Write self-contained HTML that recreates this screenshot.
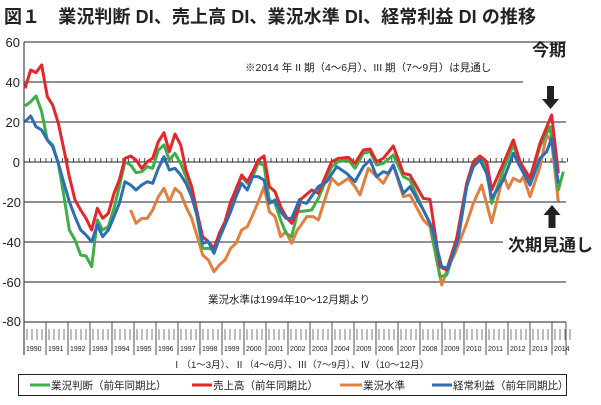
<!DOCTYPE html><html><head><meta charset="utf-8"><style>
body{margin:0;background:#fff;width:601px;height:400px;overflow:hidden;font-family:"Liberation Sans","Noto Sans CJK JP",sans-serif}
</style></head><body>
<svg width="601" height="400" xmlns="http://www.w3.org/2000/svg" font-family="Liberation Sans, Noto Sans CJK JP, sans-serif">
<text x="4" y="23" font-size="18" font-weight="bold" fill="#222" textLength="532">図１　業況判断 DI、売上高 DI、業況水準 DI、経常利益 DI の推移</text>
<g stroke="#222" stroke-width="1">
<line x1="24" y1="42" x2="566" y2="42"/><line x1="24" y1="82" x2="523" y2="82"/>
<line x1="24" y1="122" x2="566" y2="122"/><line x1="24" y1="162" x2="566" y2="162"/>
<line x1="24" y1="202" x2="566" y2="202"/><line x1="24" y1="242" x2="503" y2="242"/>
<line x1="24" y1="282" x2="566" y2="282"/><line x1="24" y1="322" x2="566" y2="322"/>
<line x1="24" y1="42" x2="24" y2="355"/>
</g>
<g id="zt" stroke="#222" stroke-width="0.8"></g>
<g font-size="13" fill="#222" text-anchor="end">
<text x="20" y="47">60</text><text x="20" y="87">40</text><text x="20" y="127">20</text><text x="20" y="167">0</text>
<text x="21" y="207">-20</text><text x="21" y="247">-40</text><text x="21" y="287">-60</text><text x="21" y="326">-80</text></g>
<text x="245" y="71" font-size="10.5" fill="#222">※2014 年 II 期（4〜6月）、III 期（7〜9月）は見通し</text>
<text x="208" y="303" font-size="10.5" fill="#222">業況水準は1994年10〜12月期より</text>
<g fill="none" stroke-width="9" stroke-linejoin="round" transform="translate(0,30) scale(0.33333)">
<polyline stroke="#e0803f" points="392,540 408,580 425,565 442,565 458,540 475,500 492,475 508,515 525,475 542,490 558,530 575,565 592,620 608,675 625,690 642,725 658,705 675,690 692,655 708,640 725,600 742,590 758,555 775,515 792,470 808,545 825,560 842,620 858,605 875,640 892,600 900,590"/>
<polyline stroke="#3fae49" points="75,228 92,215 108,198 125,245 142,330 158,345 175,400 192,500 208,600 225,630 242,675 258,678 275,710 292,570 308,600 325,590 342,535 358,470 375,395 392,405 408,428 425,425 442,410 458,415 475,360 492,345 508,390 525,370 542,400 558,440 575,480 592,565 608,655 625,655 642,660 658,615 675,575 692,520 708,475 725,440 742,460 758,440 775,400 792,405 808,510 825,520 842,570 858,610 875,620 892,550 900,540"/>
<polyline stroke="#e5262a" points="75,175 92,120 108,128 125,105 142,200 158,225 175,280 192,360 208,440 225,510 242,540 258,565 275,600 292,535 308,565 325,550 342,490 358,450 375,385 392,378 408,390 425,415 442,395 458,385 475,335 492,308 508,365 525,312 542,345 558,420 575,470 592,550 608,620 625,635 642,655 658,610 675,575 692,515 708,480 725,435 742,455 758,425 775,390 792,378 808,470 825,485 842,530 858,560 875,580 892,545 900,520"/>
<polyline stroke="#2f6db5" points="75,275 92,258 108,290 125,300 142,330 158,350 175,400 192,460 208,515 225,560 242,600 258,615 275,635 292,585 308,620 325,600 342,560 358,520 375,455 392,465 408,480 425,465 442,455 458,460 475,415 492,380 508,420 525,415 542,435 558,460 575,500 592,560 608,640 625,635 642,670 658,625 675,585 692,545 708,500 725,460 742,480 758,440 775,440 792,450 808,520 825,510 842,545 858,565 875,565 892,525 900,505"/>
</g>
<g fill="none" stroke-width="9" stroke-linejoin="round" transform="translate(300,30) scale(0.33333)">
<polyline stroke="#e0803f" points="0,590 20,560 40,560 55,570 95,445 115,465 145,445 165,470 180,495 205,415 230,440 250,460 280,405 310,500 330,495 370,570 390,590 425,765 445,710 465,670 500,580 520,520 545,465 575,578 610,435 625,475 640,445 660,455 670,440 690,500 720,410 740,315 755,335 775,515"/>
<polyline stroke="#3fae49" points="0,545 35,540 55,505 95,410 115,395 145,390 165,415 190,370 210,365 230,405 250,400 280,375 310,440 330,450 370,540 390,580 420,740 440,735 470,640 500,470 520,400 540,385 560,410 575,520 610,420 640,345 660,400 690,450 720,350 750,290 775,480 790,425"/>
<polyline stroke="#e5262a" points="0,510 35,480 55,490 95,395 115,385 145,382 165,400 190,360 210,357 230,395 250,385 280,348 310,430 330,435 370,505 390,508 420,710 440,720 470,625 500,460 520,395 540,378 560,395 575,480 610,400 640,330 660,395 690,445 720,340 755,255 775,430"/>
<polyline stroke="#2f6db5" points="0,515 20,520 55,470 80,455 110,410 140,430 165,455 190,410 210,390 230,440 250,425 265,430 280,405 310,490 330,470 370,540 395,590 425,710 445,715 465,655 475,625 500,470 520,410 540,390 560,430 575,505 610,450 640,370 660,410 690,465 720,385 740,365 755,325 775,460"/>
</g>
<text x="532" y="56" font-size="17" font-weight="bold" fill="#222">今期</text>
<path d="M547 86h7v13h5l-8.5 10-8.5-10h5z" fill="#222"/>
<path d="M552 205l8.5 10h-5v13h-7v-13h-5z" fill="#222"/>
<text x="508" y="251" font-size="17" font-weight="bold" fill="#222">次期見通し</text>
<g id="ax"></g>
<text x="172" y="368" font-size="9.5" fill="#222">Ⅰ（1〜3月）、Ⅱ（4〜6月）、Ⅲ（7〜9月）、Ⅳ（10〜12月）</text>
<rect x="18.5" y="374.5" width="548" height="21" fill="none" stroke="#222"/>
<g font-size="10.5" fill="#222">
<line x1="30" y1="385" x2="50" y2="385" stroke="#3fae49" stroke-width="3"/><text x="51" y="389">業況判断（前年同期比）</text>
<line x1="192" y1="385" x2="212" y2="385" stroke="#e5262a" stroke-width="3"/><text x="213" y="389">売上高（前年同期比）</text>
<line x1="340" y1="385" x2="362" y2="385" stroke="#e0803f" stroke-width="3"/><text x="363" y="389">業況水準</text>
<line x1="432" y1="385" x2="452" y2="385" stroke="#2f6db5" stroke-width="3"/><text x="453" y="389">経常利益（前年同期比）</text>
</g>
<script>
var ns="http://www.w3.org/2000/svg",zt=document.getElementById("zt"),ax=document.getElementById("ax");
function L(g,x1,y1,x2,y2,w){var l=document.createElementNS(ns,"line");l.setAttribute("x1",x1);l.setAttribute("y1",y1);l.setAttribute("x2",x2);l.setAttribute("y2",y2);l.setAttribute("stroke","#222");l.setAttribute("stroke-width",w);g.appendChild(l);}
for(var q=0;q<=99;q++){var x=24+q*5.49;L(zt,x,158,x,162,0.8);}
for(var y=0;y<=24;y++){var x0=24+y*22;L(ax,x0,322,x0,355,0.8);
for(var k=0;k<4;k++){var xx=x0+3+k*5;L(ax,xx,329,xx,340,0.6);}
var t=document.createElementNS(ns,"text");t.setAttribute("x",x0+2);t.setAttribute("y",351);t.setAttribute("font-size","7");t.setAttribute("fill","#222");t.textContent=1990+y;ax.appendChild(t);}
L(ax,566,322,566,355,0.8);
</script>
</svg>
</body></html>
